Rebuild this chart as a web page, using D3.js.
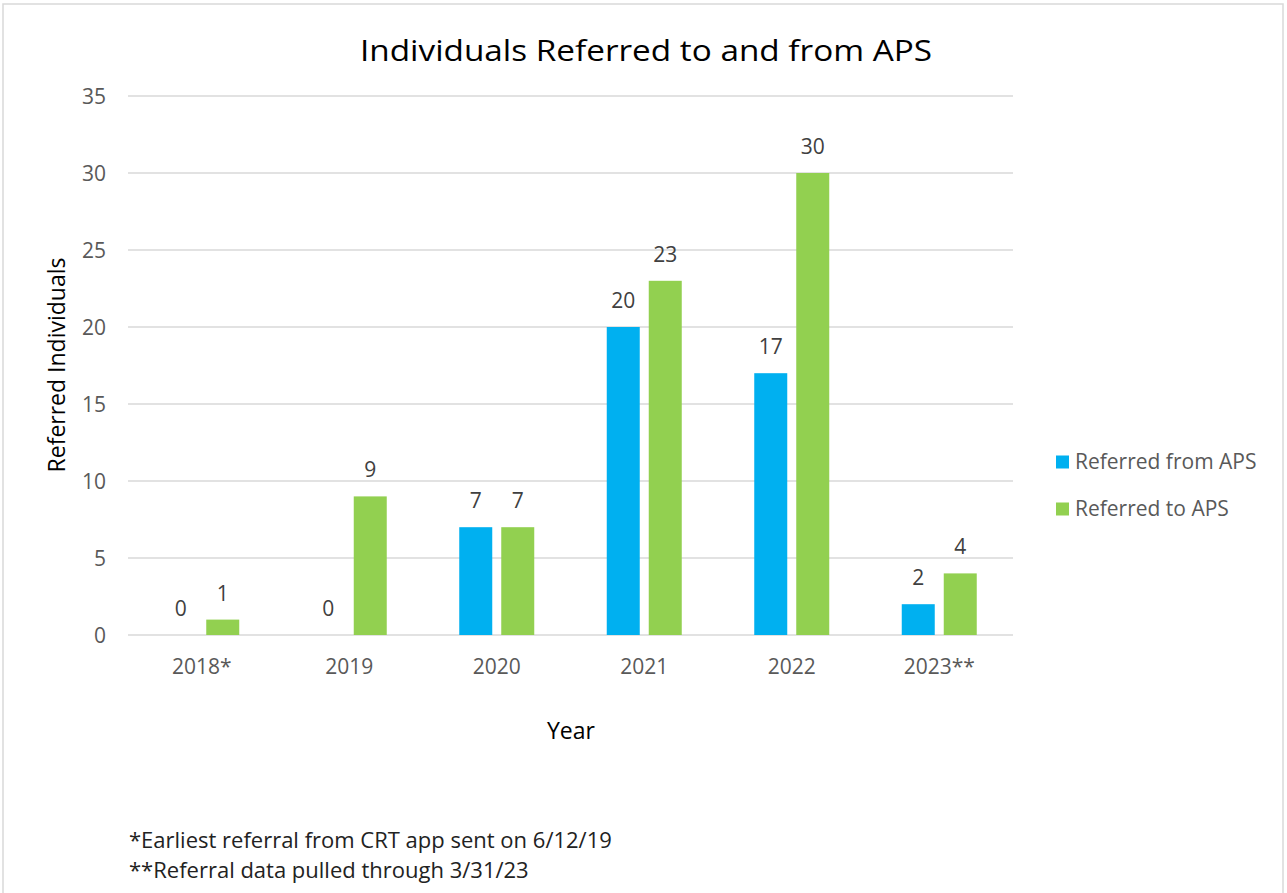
<!DOCTYPE html>
<meta charset="utf-8">
<style>
body { margin: 0; background: #fff; }
text { font-family: "Open Sans", "Noto Sans", sans-serif; }
.tick text { fill: #595959; font-size: 21px; }
.labels text { fill: #404040; font-size: 21px; text-anchor: middle; }
.legend text { fill: #595959; font-size: 21px; }
</style>
<svg width="1287" height="893"></svg>
<script src="https://d3js.org/d3.v7.min.js"></script>
<script>

var years = ["2018*", "2019", "2020", "2021", "2022", "2023**"];
var fromAPS = [0, 0, 7, 20, 17, 2];
var toAPS = [1, 9, 7, 23, 30, 4];
var seriesNames = ["Referred from APS", "Referred to APS"];
var colors = ["#00b0f0", "#92d050"];
var yTicks = [0, 5, 10, 15, 20, 25, 30, 35];
var notes = ["*Earliest referral from CRT app sent on 6/12/19", "**Referral data pulled through 3/31/23"];

var svg = d3.select("svg");

// outer frame
svg.append("rect")
    .attr("x", 3).attr("y", 4)
    .attr("width", 1280).attr("height", 900)
    .attr("fill", "#fff")
    .attr("stroke", "#d9d9d9")
    .attr("stroke-width", 1.5);

var x0 = d3.scaleBand().domain(years).range([128, 1013]);
var y = d3.scaleLinear().domain([0, 35]).range([635, 96]);

// grid
svg.append("g")
  .selectAll("line")
  .data(yTicks)
  .enter().append("line")
    .attr("x1", 128).attr("x2", 1013)
    .attr("y1", function(d) { return y(d); })
    .attr("y2", function(d) { return y(d); })
    .attr("stroke", "#d9d9d9")
    .attr("stroke-width", 1.5);

var yAxis = svg.append("g")
    .attr("transform", "translate(128,0)")
    .call(d3.axisLeft(y).tickValues(yTicks).tickSize(0).tickPadding(22));
yAxis.select(".domain").remove();
yAxis.selectAll("text").attr("dy", "0.35em");

var xAxis = svg.append("g")
    .attr("transform", "translate(0,635)")
    .call(d3.axisBottom(x0).tickSize(0).tickPadding(24));
xAxis.select(".domain").remove();

var rows = years.map(function(yr, i) { return { year: yr, vals: [fromAPS[i], toAPS[i]] }; });
var barW = 33, gap = 9;

var groups = svg.append("g").selectAll("g")
  .data(rows)
  .enter().append("g")
    .attr("transform", function(d) { return "translate(" + (x0(d.year) + x0.bandwidth() / 2) + ",0)"; });

groups.selectAll("rect")
  .data(function(d) { return d.vals; })
  .enter().append("rect")
    .attr("x", function(d, i) { return i === 0 ? -gap / 2 - barW : gap / 2; })
    .attr("width", barW)
    .attr("y", function(d) { return y(d); })
    .attr("height", function(d) { return y(0) - y(d); })
    .attr("fill", function(d, i) { return colors[i]; });

groups.append("g").attr("class", "labels")
  .selectAll("text")
  .data(function(d) { return d.vals; })
  .enter().append("text")
    .attr("x", function(d, i) { return i === 0 ? -gap / 2 - barW / 2 : gap / 2 + barW / 2; })
    .attr("y", function(d) { return y(d) - 19; })
    .text(function(d) { return d; });

// title
svg.append("text")
    .attr("x", 646).attr("y", 61)
    .attr("text-anchor", "middle")
    .attr("fill", "#000")
    .attr("textLength", 572)
    .attr("lengthAdjust", "spacingAndGlyphs")
    .style("font-size", "30px")
    .text("Individuals Referred to and from APS");

svg.append("text")
    .attr("x", 571).attr("y", 739)
    .attr("text-anchor", "middle")
    .attr("fill", "#000")
    .style("font-size", "23px")
    .text("Year");

svg.append("text")
    .attr("transform", "translate(65,365) rotate(-90)")
    .attr("text-anchor", "middle")
    .attr("fill", "#000")
    .style("font-size", "23px")
    .text("Referred Individuals");

// legend
var legend = svg.append("g").attr("class", "legend")
  .selectAll("g")
  .data(seriesNames)
  .enter().append("g")
    .attr("transform", function(d, i) { return "translate(1056," + (462 + i * 47) + ")"; });
legend.append("rect")
    .attr("x", 0).attr("y", -6.5)
    .attr("width", 13).attr("height", 13)
    .attr("fill", function(d, i) { return colors[i]; });
legend.append("text")
    .attr("x", 19).attr("dy", "0.35em")
    .text(function(d) { return d; });

svg.append("g").selectAll("text")
  .data(notes)
  .enter().append("text")
    .attr("x", 129)
    .attr("y", function(d, i) { return 848 + i * 30; })
    .attr("fill", "#222")
    .style("font-size", "22px")
    .text(function(d) { return d; });

</script>
